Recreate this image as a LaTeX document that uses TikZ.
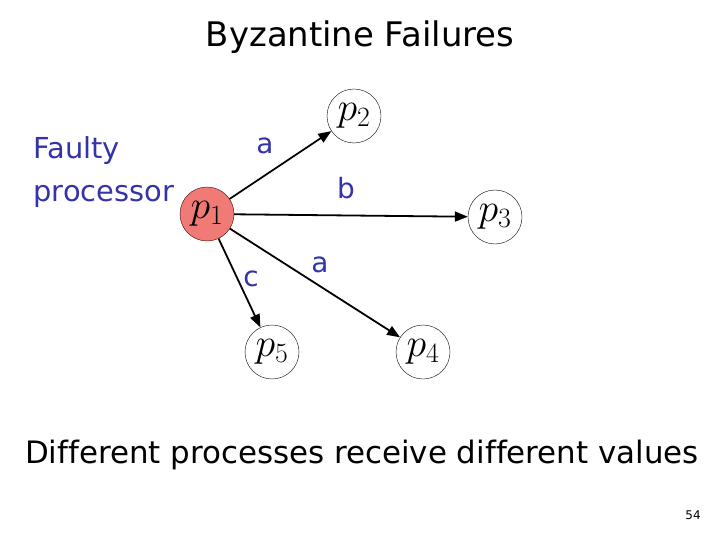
\RequirePackage{fix-cm}
\documentclass[tikz,border=0pt]{standalone}
\usepackage{fontspec}
\setsansfont{DejaVu Sans}[Ligatures=NoCommon]
\definecolor{LabelBlue}{RGB}{51,51,170}
\definecolor{FaultRed}{RGB}{240,122,118}
\usetikzlibrary{arrows.meta}

\begin{document}
\begin{tikzpicture}[
      x=1bp, y=-1bp,
      every node/.style={font=\sffamily},
      proc/.style={circle, draw=black, thin, minimum size=54bp, inner sep=0pt,
                   font=\fontsize{40}{40}\selectfont},
      faulty/.style={proc, fill=FaultRed, draw=black!75!red},
      msg/.style={-{Triangle[length=13bp,width=10bp]}, line width=1.8bp},
      val/.style={text=LabelBlue, font=\sffamily\fontsize{28}{28}\selectfont}
    ]
      \useasboundingbox (0,0) rectangle (720,540);
      \node[font=\sffamily\fontsize{34}{34}\selectfont] (title) at (360,37) {Byzantine Failures};
      \node[val, align=left, anchor=west, font=\sffamily\fontsize{29}{43}\selectfont] (flt) at (30,172) {Faulty\\processor};

      \node[faulty] (p1) at (207,214) {$p_1$};
      \node[proc] (p2) at (354,116) {$p_2$};
      \node[proc] (p3) at (495,217) {$p_3$};
      \node[proc] (p4) at (423,352) {$p_4$};
      \node[proc] (p5) at (272,352) {$p_5$};

      \draw[msg] (p1) -- (p2);
      \draw[msg] (p1) -- (p3);
      \draw[msg] (p1) -- (p4);
      \draw[msg] (p1) -- (p5);

      \node[val] (v2) at (265,146) {a};
      \node[val] (v3) at (346,188) {b};
      \node[val] (v4) at (320,265) {a};
      \node[val] (v5) at (251,279) {c};

      \node[font=\sffamily\fontsize{31}{31}\selectfont] (note) at (362,455) {Different processes receive different values};
      \node[font=\sffamily\fontsize{12}{12}\selectfont] (page) at (693,515) {54};
    \end{tikzpicture}
\end{document}
